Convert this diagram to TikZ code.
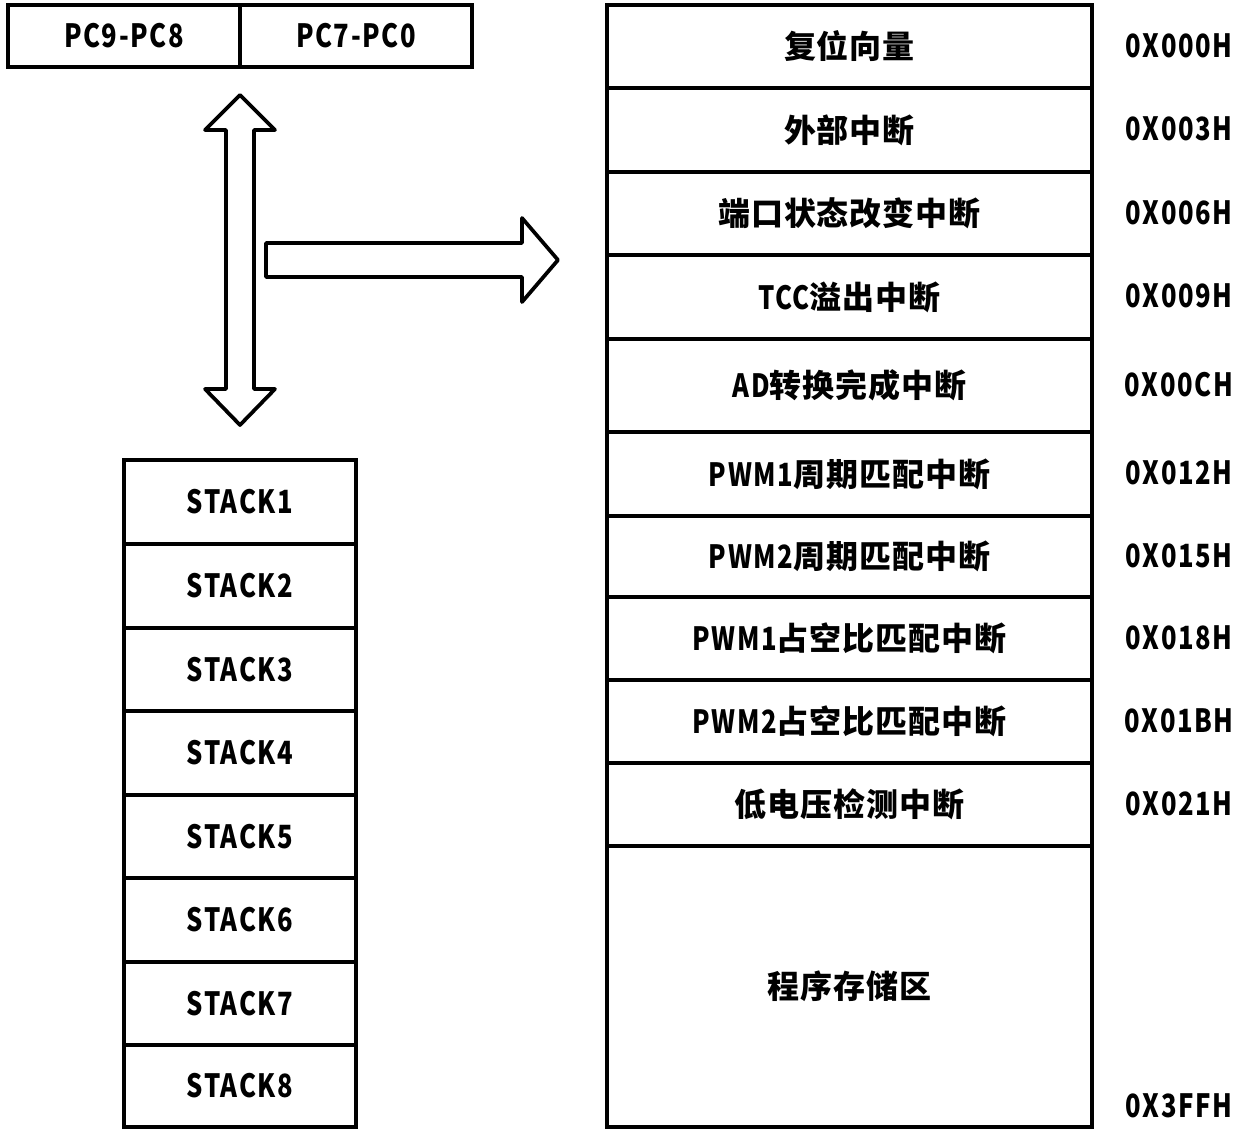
\documentclass[tikz,border=0pt]{standalone}
\usepackage{fontspec}
\setmainfont{Noto Sans CJK SC}[LetterSpace=3]
\newfontfamily\lat{Noto Sans CJK SC}[FakeStretch=0.8,LetterSpace=5]
\begin{document}
\begin{tikzpicture}[x=0.75pt,y=-0.75pt,
  line width=2.8pt,
  cell/.style={draw=black, line width=2.8pt, inner sep=0pt, align=center,
    font=\fontsize{24}{28}\selectfont\bfseries},
  addr/.style={inner sep=0pt, font=\fontsize{24}{28}\selectfont\lat\bfseries},
  blockarrow/.style={draw=black, line width=2.8pt, fill=white, line join=round}]
\useasboundingbox (0,0) rectangle (1245,1128);
% PC register
\node[cell, minimum width={232*0.75pt}, minimum height={62*0.75pt}] (pch) at (124,36) {\lat\bfseries PC9-PC8};
\node[cell, minimum width={232*0.75pt}, minimum height={62*0.75pt}] (pcl) at (356,36) {\lat\bfseries PC7-PC0};
% block arrows
\coordinate (vtop) at (240,95);
\coordinate (vbot) at (240,425);
\coordinate (htip) at (558,260);
\draw[blockarrow] (vtop) -- (275,130) -- (254,130) -- (254,389) -- (275,389) -- (vbot)
  -- (205,389) -- (226,389) -- (226,130) -- (205,130) -- cycle;
\draw[blockarrow] (266,243) -- (522,243) -- (522,218) -- (htip) -- (522,302) -- (522,277) -- (266,277) -- cycle;
% stack
\foreach \i/\t/\b in {1/460/544,2/544/628,3/628/711,4/711/795,5/795/878,6/878/962,7/962/1045,8/1045/1127}{
  \node[cell, minimum width={232*0.75pt}, minimum height={(\b-\t)*0.75pt}] (s\i) at (240,{(\t+\b)/2}) {\lat\bfseries STACK\i};
}
% program memory map
\foreach \n/\t/\b/\txt/\ad in {
  r1/5/88/{复位向量}/{0X000H},
  r2/88/172/{外部中断}/{0X003H},
  r3/172/255/{端口状态改变中断}/{0X006H},
  r4/255/339/{{\lat\bfseries TCC}溢出中断}/{0X009H},
  r5/339/432/{{\lat\bfseries AD}转换完成中断}/{0X00CH},
  r6/432/516/{{\lat\bfseries PWM1}周期匹配中断}/{0X012H},
  r7/516/597/{{\lat\bfseries PWM2}周期匹配中断}/{0X015H},
  r8/597/680/{{\lat\bfseries PWM1}占空比匹配中断}/{0X018H},
  r9/680/763/{{\lat\bfseries PWM2}占空比匹配中断}/{0X01BH},
  r10/763/846/{低电压检测中断}/{0X021H}}{
  \node[cell, minimum width={485*0.75pt}, minimum height={(\b-\t)*0.75pt}] (\n) at (849.5,{(\t+\b)/2}) {\txt};
  \node[addr] (a\n) at (1179,{(\t+\b)/2-1}) {\ad};
}
\node[cell, minimum width={485*0.75pt}, minimum height={281*0.75pt}] (r11) at (849.5,986.5) {程序存储区};
\node[addr] (ar11) at (1179,1106) {0X3FFH};
\end{tikzpicture}
\end{document}
